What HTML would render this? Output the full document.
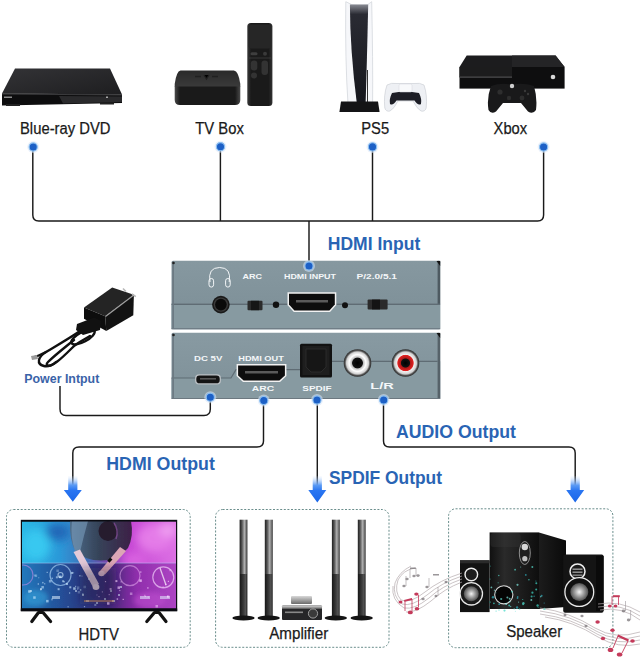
<!DOCTYPE html>
<html><head><meta charset="utf-8">
<style>
html,body{margin:0;padding:0;background:#fff;width:640px;height:658px;overflow:hidden}
svg{display:block}
text{font-family:"Liberation Sans",sans-serif}
</style></head><body>
<svg width="640" height="658" viewBox="0 0 640 658">
<defs>
  <radialGradient id="dotg" cx="50%" cy="50%" r="50%">
    <stop offset="0" stop-color="#1c6ad4"/>
    <stop offset="0.5" stop-color="#1f6fd8"/>
    <stop offset="0.68" stop-color="#8dbbee"/>
    <stop offset="1" stop-color="#dfeafa" stop-opacity="0"/>
  </radialGradient>
  <linearGradient id="panelg" x1="0" y1="0" x2="0" y2="1">
    <stop offset="0" stop-color="#8694a0"/>
    <stop offset="0.62" stop-color="#7f8d97"/>
    <stop offset="0.64" stop-color="#8898a1"/>
    <stop offset="1" stop-color="#7f8e97"/>
  </linearGradient>
  <linearGradient id="arrowg" x1="0" y1="0" x2="0" y2="1">
    <stop offset="0" stop-color="#cfe2fb" stop-opacity="0.1"/>
    <stop offset="0.35" stop-color="#5a9af4"/>
    <stop offset="0.55" stop-color="#2a76f2"/>
    <stop offset="1" stop-color="#1a66e8"/>
  </linearGradient>
  <linearGradient id="dvdtop" x1="0" y1="0" x2="1" y2="1">
    <stop offset="0" stop-color="#333336"/>
    <stop offset="1" stop-color="#1e1e20"/>
  </linearGradient>
  <linearGradient id="tvboxg" x1="0" y1="0" x2="0" y2="1">
    <stop offset="0" stop-color="#3a3a3a"/>
    <stop offset="0.35" stop-color="#1e1e1e"/>
    <stop offset="0.45" stop-color="#0c0c0c"/>
    <stop offset="1" stop-color="#151515"/>
  </linearGradient>
  <linearGradient id="tvside" x1="0" y1="0" x2="1" y2="0">
    <stop offset="0" stop-color="#4a4a4a"/>
    <stop offset="0.08" stop-color="#1a1a1a"/>
    <stop offset="0.92" stop-color="#1a1a1a"/>
    <stop offset="1" stop-color="#4a4a4a"/>
  </linearGradient>
  <linearGradient id="tvtop" x1="0" y1="0" x2="0" y2="1">
    <stop offset="0" stop-color="#2a2a2a"/>
    <stop offset="1" stop-color="#3a3a3a"/>
  </linearGradient>
  <linearGradient id="remoteg" x1="0" y1="0" x2="1" y2="0">
    <stop offset="0" stop-color="#3a3a3a"/>
    <stop offset="0.15" stop-color="#1a1a1a"/>
    <stop offset="0.85" stop-color="#1a1a1a"/>
    <stop offset="1" stop-color="#333"/>
  </linearGradient>
  <linearGradient id="ps5blk" x1="0" y1="0" x2="0" y2="1">
    <stop offset="0" stop-color="#8a8c94"/>
    <stop offset="0.1" stop-color="#2a2b33"/>
    <stop offset="1" stop-color="#15161c"/>
  </linearGradient>
</defs>

<!-- ===== DVD player ===== -->
<polygon points="15,68.5 110,68.5 122,94.5 2,93.5" fill="url(#dvdtop)"/>
<polygon points="2,93.5 122,94.5 122,103 2,105.5" fill="#0d0d0e"/>
<polygon points="2,93.5 122,94.5 122,95.5 2,94.5" fill="#3a3a3c"/>
<polygon points="59,96 122,96.5 122,102 63,103.5" fill="#2a2a2c"/>
<rect x="4" y="96.5" width="8" height="1.5" fill="#8a8a8a"/>
<rect x="106" y="96.5" width="2" height="1.5" fill="#aaa"/>
<rect x="6" y="104" width="14" height="2" fill="#222"/>
<rect x="100" y="102.5" width="14" height="2" fill="#222"/>

<!-- ===== TV box ===== -->
<path d="M174.7,86 V100 Q174.7,105.1 180,105.1 H235 Q240.3,105.1 240.3,100 V86 Z" fill="url(#tvside)"/>
<path d="M180.5,70.5 H233.9 Q238.5,71 240.3,84 V86.5 H174.7 V84 Q176.5,71 180.5,70.5 Z" fill="url(#tvtop)"/>
<path d="M195,76.5 h6 M204,75 l2.5,4 l2.5,-4 M212,76.5 h6" stroke="#202020" stroke-width="1.3"/>
<rect x="247.3" y="22.9" width="25.1" height="83.2" rx="3.5" fill="url(#remoteg)"/>
<rect x="248.5" y="24.5" width="22.7" height="24" rx="2.5" fill="#262626"/>
<rect x="250.5" y="52.3" width="7" height="3" rx="1.5" fill="#3e3e3e"/>
<circle cx="265" cy="53.8" r="2" fill="#3a3a3a"/>
<rect x="250.8" y="60.5" width="6.5" height="10" rx="3" fill="#333"/>
<rect x="261.5" y="60.5" width="6.5" height="14.5" rx="3" fill="#333"/>
<circle cx="254" cy="75.5" r="3" fill="#333"/>
<path d="M249,58 H271" stroke="#4a4a4a" stroke-width="0.6"/>
<!-- ===== PS5 ===== -->
<path d="M345.8,1.7 Q352,6 358,5 L363,5 Q368,6 371.7,1.7 Q373,60 372.6,104 L348,104 Q345,60 345.8,1.7 Z" fill="#f6f7fa" stroke="#cfd2d9" stroke-width="0.7"/>
<path d="M349.9,4.4 L368.2,4.4 Q367,60 365.6,104 L356.9,104 Q350,50 349.9,4.4 Z" fill="url(#ps5blk)"/>
<rect x="367" y="70" width="1" height="32" fill="#333"/>
<path d="M341,101.4 L378,101.4 L379.6,111.9 L339.4,111.9 Z" fill="#141416"/>
<!-- controller -->
<path d="M387,85 Q391,82.5 397,83.5 L414,83.5 Q420,82.5 424,85 Q427.5,95 426.2,108 Q425,112 421,111 Q417,109 413,101 L398,101 Q394,109 390,111 Q386,112 384.8,108 Q383.5,95 387,85 Z" fill="#eef0f4" stroke="#c6c9d0" stroke-width="0.6"/>
<path d="M392,93 Q405,90.5 419,93 Q422,99 421,104 Q418,106 414.5,100.5 L396.5,100.5 Q393,106 390,104 Q389,99 392,93 Z" fill="#1d1e26"/>
<rect x="399" y="84" width="13" height="8" rx="1.5" fill="#f8f9fb" stroke="#d4d7dd" stroke-width="0.5"/>
<!-- ===== Xbox ===== -->
<polygon points="466.7,55.4 555.6,55.4 564.6,67 459.5,67" fill="#1c1c1e"/>
<polygon points="512,55.4 555.6,55.4 564.6,67 512,67" fill="#242426"/>
<rect x="459.5" y="67" width="105.1" height="21.6" fill="#0e0e0f"/>
<rect x="459.5" y="67" width="52.5" height="10" fill="#1c1c1d"/>
<rect x="459.5" y="76.5" width="52.5" height="1.3" fill="#4a4a4c"/>
<circle cx="553" cy="77" r="2.3" fill="#d8d8d8"/>
<path d="M491,86 Q500,82.5 512,84.5 Q524,82.5 534,86 Q537.5,98 536,110 Q533,114.5 528,111.5 L521,103 L503,103 L496,111.5 Q491,114.5 488.5,110 Q486.5,98 491,86 Z" fill="#19191a"/>
<circle cx="512" cy="86" r="2.2" fill="#cfcfcf"/>
<circle cx="500" cy="92" r="2.6" fill="#2e2e2e"/>
<circle cx="509" cy="98" r="2.2" fill="#2e2e2e"/>
<circle cx="522" cy="98" r="2.4" fill="#2e2e2e"/>
<circle cx="525" cy="91" r="1.2" fill="#3a3a3a"/><circle cx="528" cy="94" r="1.2" fill="#3a3a3a"/>

<!-- ===== labels top ===== -->
<g font-size="16" fill="#1a1a1a" stroke="#1a1a1a" stroke-width="0.25">
<text x="20" y="133.8" textLength="90.5" lengthAdjust="spacingAndGlyphs">Blue-ray DVD</text>
<text x="195.3" y="133.8" textLength="48.5" lengthAdjust="spacingAndGlyphs">TV Box</text>
<text x="361.3" y="133.8" textLength="27.8" lengthAdjust="spacingAndGlyphs">PS5</text>
<text x="493.6" y="133.8" textLength="33.5" lengthAdjust="spacingAndGlyphs">Xbox</text>
</g>

<!-- ===== lines ===== -->
<g fill="none" stroke="#1a1a1a" stroke-width="1.45">
<path d="M32.8,147 V215 Q32.8,221 38.8,221 H537.6 Q543.6,221 543.6,215 V147"/>
<path d="M220.4,147 V221"/>
<path d="M372.5,147 V221"/>
<path d="M309,221 V266"/>
<path d="M60,386 V409 Q60,415.5 66,415.5 H204 Q210.3,415.5 210.3,409 V397"/>
<path d="M263.5,400 V441 Q263.5,447 257,447 H79 Q72.8,447 72.8,453 V488"/>
<path d="M317.3,400 V488"/>
<path d="M383.5,400 V441 Q383.5,447 389.5,447 H569 Q575.2,447 575.2,453 V488"/>
</g>
<!-- ===== device panels ===== -->
<defs>
  <linearGradient id="pTop" x1="0" y1="0" x2="0" y2="1">
    <stop offset="0" stop-color="#8698a0"/>
    <stop offset="1" stop-color="#7c8e96"/>
  </linearGradient>
  <linearGradient id="pBot" x1="0" y1="0" x2="0" y2="1">
    <stop offset="0" stop-color="#889aa2"/>
    <stop offset="1" stop-color="#7e9098"/>
  </linearGradient>
  <radialGradient id="rcaW" cx="50%" cy="50%" r="50%">
    <stop offset="0" stop-color="#000"/>
    <stop offset="0.36" stop-color="#111"/>
    <stop offset="0.42" stop-color="#bdbdbd"/>
    <stop offset="0.6" stop-color="#ffffff"/>
    <stop offset="0.8" stop-color="#d0d0d0"/>
    <stop offset="0.9" stop-color="#555"/>
    <stop offset="1" stop-color="#2a2a2a"/>
  </radialGradient>
  <radialGradient id="rcaR" cx="50%" cy="50%" r="50%">
    <stop offset="0" stop-color="#000"/>
    <stop offset="0.3" stop-color="#111"/>
    <stop offset="0.36" stop-color="#b01818"/>
    <stop offset="0.56" stop-color="#e02020"/>
    <stop offset="0.62" stop-color="#f0f0f0"/>
    <stop offset="0.8" stop-color="#d0d0d0"/>
    <stop offset="0.9" stop-color="#555"/>
    <stop offset="1" stop-color="#2a2a2a"/>
  </radialGradient>
</defs>
<!-- top panel -->
<rect x="171.5" y="260.8" width="268.7" height="68.4" rx="1.5" fill="url(#pTop)"/>
<rect x="171.5" y="304.5" width="268.7" height="24.7" fill="#879aa1"/>
<rect x="171.5" y="303.6" width="268.7" height="1.4" fill="#5f6c74"/>
<rect x="437.6" y="260.8" width="2.6" height="43" fill="#4e5a61"/>
<rect x="172.3" y="261.5" width="1.6" height="67" fill="#6a7780"/>
<rect x="171.5" y="328.2" width="268.7" height="1" fill="#6c7880"/>
<path d="M436.5,261 L440.2,261 L440.2,266 Z" fill="#111"/>
<circle cx="173.5" cy="263" r="1.3" fill="#222"/>
<!-- headphones -->
<g fill="none" stroke="#f2f5f7" stroke-width="1">
<path d="M210,282 Q207.5,267.5 219.6,267.5 Q231.7,267.5 229.2,282"/>
<rect x="209" y="278.5" width="4.6" height="8.6" rx="2.3"/>
<rect x="225.6" y="278.5" width="4.6" height="8.6" rx="2.3"/>
</g>
<!-- jack -->
<circle cx="220.9" cy="304.6" r="8.8" fill="#1a1a1a"/>
<circle cx="220.9" cy="304.6" r="7.2" fill="#3a3a3a"/>
<circle cx="220.9" cy="304.6" r="5.8" fill="#0a0a0a"/>
<!-- switch ARC -->
<rect x="247.5" y="300.8" width="15" height="9.4" rx="1" fill="#2b2b2b"/>
<rect x="251" y="300.8" width="8" height="9.4" fill="#161616"/>
<circle cx="276" cy="304.8" r="3.2" fill="#111"/>
<!-- HDMI input port -->
<path d="M287.5,292.2 H336.3 V305 L330,312 H293.8 L287.5,305 Z" fill="#f2f2f2"/>
<path d="M289,293.7 H334.8 V304.6 L329.4,310.6 H294.4 L289,304.6 Z" fill="#0d0d0d"/>
<rect x="296" y="300" width="32" height="2.5" fill="#5a5a5a"/>
<circle cx="345" cy="305.3" r="3" fill="#111"/>
<!-- switch P/2.0 -->
<rect x="367.6" y="299.6" width="20" height="9.8" rx="1" fill="#2b2b2b"/>
<rect x="372" y="299.6" width="8" height="9.8" fill="#141414"/>
<!-- panel labels -->
<g font-weight="bold" font-size="7.4" fill="#f4f7f9" lengthAdjust="spacingAndGlyphs">
<text x="242.5" y="279.2" textLength="19.5" lengthAdjust="spacingAndGlyphs">ARC</text>
<text x="284" y="279.2" textLength="52" lengthAdjust="spacingAndGlyphs">HDMI INPUT</text>
<text x="356.5" y="279.2" textLength="40.5" lengthAdjust="spacingAndGlyphs">P/2.0/5.1</text>
</g>

<!-- bottom panel -->
<rect x="171.5" y="332.8" width="268.7" height="66" rx="1.5" fill="url(#pBot)"/>
<path d="M171.5,378 H231 L236,369.6 H300 V361.3 H440.2 V398.8 H171.5 Z" fill="#879aa1"/>
<path d="M171.5,378 H231 L236,369.6 H300 M332,361.3 H437.6" fill="none" stroke="#5f6c74" stroke-width="1.2"/>
<rect x="437.6" y="332.8" width="2.6" height="66" fill="#566269"/>
<rect x="172.3" y="333.5" width="1.6" height="65" fill="#6a7780"/>
<rect x="171.5" y="398" width="268.7" height="1" fill="#6c7880"/>
<path d="M436.5,333 L440.2,333 L440.2,338 Z" fill="#111"/>
<circle cx="173.5" cy="335" r="1.3" fill="#222"/>
<!-- micro usb -->
<rect x="195" y="374.2" width="26" height="10.3" rx="4" fill="#b9bec2"/>
<rect x="196.3" y="375.4" width="23.4" height="7.9" rx="3.4" fill="#141414"/>
<rect x="200" y="378" width="16" height="1.6" fill="#555"/>
<!-- HDMI out -->
<path d="M236.6,364 H286.4 V376 L280,382 H243 L236.6,376 Z" fill="#f2f2f2"/>
<path d="M238.1,365.5 H284.9 V375.4 L279.4,380.6 H243.6 L238.1,375.4 Z" fill="#0d0d0d"/>
<rect x="245" y="371" width="33" height="2.5" fill="#5a5a5a"/>
<!-- SPDIF optical -->
<rect x="300" y="343.7" width="32" height="33.8" rx="1.5" fill="#121212"/>
<rect x="302.5" y="346" width="27" height="29" fill="#1e1e1e"/>
<path d="M306,349 H326 V367 L321,372 H311 L306,367 Z" fill="#161616" stroke="#2e2e2e" stroke-width="0.8"/>
<!-- RCA -->
<circle cx="357.5" cy="363" r="13.8" fill="url(#rcaW)"/>
<circle cx="405.5" cy="363" r="13.8" fill="url(#rcaR)"/>
<g font-weight="bold" font-size="7.4" fill="#f4f7f9">
<text x="194" y="361.2" textLength="28.3" lengthAdjust="spacingAndGlyphs">DC 5V</text>
<text x="238.3" y="361.2" textLength="45.5" lengthAdjust="spacingAndGlyphs">HDMI OUT</text>
<text x="251.8" y="391.3" textLength="22.3" lengthAdjust="spacingAndGlyphs">ARC</text>
<text x="302.3" y="390.7" textLength="29.3" lengthAdjust="spacingAndGlyphs">SPDIF</text>
</g>
<text x="370.3" y="389.2" font-weight="bold" font-size="9.5" fill="#f4f7f9" textLength="23.5" lengthAdjust="spacingAndGlyphs">L/R</text>
<!-- ===== blue labels ===== -->
<g font-weight="bold" font-size="17.5" fill="#2964b4">
<text x="327.8" y="249.5" textLength="92.5" lengthAdjust="spacingAndGlyphs">HDMI Input</text>
<text x="106.3" y="470" textLength="108.5" lengthAdjust="spacingAndGlyphs">HDMI Output</text>
<text x="396" y="438.2" textLength="120" lengthAdjust="spacingAndGlyphs">AUDIO Output</text>
<text x="329" y="483.7" textLength="113" lengthAdjust="spacingAndGlyphs">SPDIF Output</text>
</g>
<text x="24.3" y="382.6" font-weight="bold" font-size="12.4" fill="#3a63a8" textLength="75" lengthAdjust="spacingAndGlyphs">Power Intput</text>

<!-- ===== charger ===== -->
<g>
<g fill="none" stroke="#101010" stroke-width="2.4" stroke-linecap="round">
<ellipse cx="83" cy="337" rx="13" ry="4.8" transform="rotate(-28 83 337)"/>
<path d="M80,331 C70,338 56,346 46,352 C38,357 36,364 44,366 C52,368 62,358 72,348 C78,342 84,340 90,336"/>
<path d="M74,340 C64,348 54,356 48,362 C44,366 50,368 56,362"/>
<path d="M46,352 C42,354 38,356 35,357"/>
</g>
<path d="M31,356 L37,355 L38,359 L32,360 Z" fill="#9a9a9a"/>
<polygon points="84,307.5 112.2,287.6 133.9,294.7 105.2,316.3" fill="#242424"/>
<polygon points="105.2,316.3 133.9,294.7 133.3,315.2 106.3,331" fill="#121212"/>
<polygon points="84,307.5 105.2,316.3 106.3,331 84,318.7" fill="#0d0d0d"/>
<path d="M105.5,316.5 L133.9,295" stroke="#a0a0a0" stroke-width="1.1"/>
<polygon points="77,324 94,317.5 101,321 100,330 83,335 76,330" fill="#111"/>
<path d="M123,288.5 L126,291.5 M132,294 L135.8,296.6" stroke="#b8b8b8" stroke-width="1.6"/>
</g>

<!-- ===== dots ===== -->
<g>
<circle cx="33.2" cy="147" r="6" fill="#d8e6f7" fill-opacity="0.55"/><circle cx="33.2" cy="147" r="4.1" fill="#1d60c6" stroke="#8cc0f2" stroke-width="1.1"/>
<circle cx="220.5" cy="146.7" r="6" fill="#d8e6f7" fill-opacity="0.55"/><circle cx="220.5" cy="146.7" r="4.1" fill="#1d60c6" stroke="#8cc0f2" stroke-width="1.1"/>
<circle cx="372.5" cy="146.9" r="6" fill="#d8e6f7" fill-opacity="0.55"/><circle cx="372.5" cy="146.9" r="4.1" fill="#1d60c6" stroke="#8cc0f2" stroke-width="1.1"/>
<circle cx="543.6" cy="147" r="6" fill="#d8e6f7" fill-opacity="0.55"/><circle cx="543.6" cy="147" r="4.1" fill="#1d60c6" stroke="#8cc0f2" stroke-width="1.1"/>
<circle cx="309" cy="266" r="6" fill="#d8e6f7" fill-opacity="0.55"/><circle cx="309" cy="266" r="4.1" fill="#1d60c6" stroke="#8cc0f2" stroke-width="1.1"/>
<circle cx="210.3" cy="397.2" r="6" fill="#d8e6f7" fill-opacity="0.55"/><circle cx="210.3" cy="397.2" r="4.1" fill="#1d60c6" stroke="#8cc0f2" stroke-width="1.1"/>
<circle cx="263.8" cy="400.5" r="6" fill="#d8e6f7" fill-opacity="0.55"/><circle cx="263.8" cy="400.5" r="4.1" fill="#1d60c6" stroke="#8cc0f2" stroke-width="1.1"/>
<circle cx="317" cy="400" r="6" fill="#d8e6f7" fill-opacity="0.55"/><circle cx="317" cy="400" r="4.1" fill="#1d60c6" stroke="#8cc0f2" stroke-width="1.1"/>
<circle cx="383.7" cy="400" r="6" fill="#d8e6f7" fill-opacity="0.55"/><circle cx="383.7" cy="400" r="4.1" fill="#1d60c6" stroke="#8cc0f2" stroke-width="1.1"/>
</g>

<!-- ===== arrows ===== -->
<g fill="url(#arrowg)">
<path d="M68.2,476 H77.39999999999999 V490 H81.8 L72.8,501.8 L63.8,490 H68.2 Z"/>
<path d="M312.7,476 H321.90000000000003 V490 H326.3 L317.3,502.5 L308.3,490 H312.7 Z"/>
<path d="M570.6,476 H579.8000000000001 V490 H584.2 L575.2,502.5 L566.2,490 H570.6 Z"/>
</g>

<!-- ===== dashed boxes ===== -->
<g fill="none" stroke="#6a8e8c" stroke-width="1" stroke-dasharray="2 1.6">
<rect x="6.5" y="509.5" width="183.7" height="137.8" rx="7"/>
<rect x="215.6" y="509.5" width="173.4" height="137.8" rx="7"/>
<rect x="448.6" y="508.8" width="164.3" height="138.9" rx="7"/>
</g>

<!-- ===== bottom labels ===== -->
<g font-size="16" fill="#1a1a1a" stroke="#1a1a1a" stroke-width="0.25">
<text x="78.5" y="639.5" textLength="40.5" lengthAdjust="spacingAndGlyphs">HDTV</text>
<text x="269.2" y="639.3" textLength="59" lengthAdjust="spacingAndGlyphs">Amplifier</text>
<text x="506.2" y="636.6" textLength="56" lengthAdjust="spacingAndGlyphs">Speaker</text>
</g>
<defs>
  <linearGradient id="scrH" x1="0" y1="0" x2="1" y2="0">
    <stop offset="0" stop-color="#2ab8e6"/>
    <stop offset="0.25" stop-color="#2c98d8"/>
    <stop offset="0.42" stop-color="#3f6fb8"/>
    <stop offset="0.55" stop-color="#7a48b0"/>
    <stop offset="0.7" stop-color="#c648d4"/>
    <stop offset="1" stop-color="#dc70e4"/>
  </linearGradient>
  <linearGradient id="ctrlg" x1="0" y1="0" x2="1" y2="0">
    <stop offset="0" stop-color="#2272b8"/>
    <stop offset="0.3" stop-color="#24408a"/>
    <stop offset="0.55" stop-color="#36246e"/>
    <stop offset="0.75" stop-color="#8a2aa8"/>
    <stop offset="1" stop-color="#a840c0"/>
  </linearGradient>
  <linearGradient id="shirtg" x1="0" y1="0" x2="1" y2="0">
    <stop offset="0" stop-color="#4e6e8c"/>
    <stop offset="0.45" stop-color="#36445a"/>
    <stop offset="1" stop-color="#3c2046"/>
  </linearGradient>
  <filter id="soft" x="0" y="0" width="100%" height="100%"><feGaussianBlur stdDeviation="0.6"/></filter>
  <filter id="blur2" x="-30%" y="-30%" width="160%" height="160%"><feGaussianBlur stdDeviation="2"/></filter>
  <filter id="blur4" x="-50%" y="-50%" width="200%" height="200%"><feGaussianBlur stdDeviation="4"/></filter>
  <clipPath id="scrclip"><rect x="22" y="521.5" width="154" height="87"/></clipPath>
  <linearGradient id="towerU" x1="0" y1="0" x2="1" y2="0">
    <stop offset="0" stop-color="#1e1e1e"/>
    <stop offset="0.3" stop-color="#555"/>
    <stop offset="0.62" stop-color="#b0b0b0"/>
    <stop offset="0.85" stop-color="#707070"/>
    <stop offset="1" stop-color="#1a1a1a"/>
  </linearGradient>
  <linearGradient id="towerL" x1="0" y1="0" x2="1" y2="0">
    <stop offset="0" stop-color="#151515"/>
    <stop offset="0.5" stop-color="#3a3a3a"/>
    <stop offset="0.8" stop-color="#555"/>
    <stop offset="1" stop-color="#111"/>
  </linearGradient>
  <linearGradient id="silver" x1="0" y1="0" x2="0" y2="1">
    <stop offset="0" stop-color="#d8d8d8"/>
    <stop offset="1" stop-color="#6a6a6a"/>
  </linearGradient>
  <linearGradient id="spkSide" x1="0" y1="0" x2="1" y2="0">
    <stop offset="0" stop-color="#1c1c1c"/>
    <stop offset="1" stop-color="#0a0a0a"/>
  </linearGradient>
  <linearGradient id="subFront" x1="0" y1="0" x2="1" y2="0">
    <stop offset="0" stop-color="#101010"/>
    <stop offset="0.3" stop-color="#2a2a2a"/>
    <stop offset="0.7" stop-color="#1a1a1a"/>
    <stop offset="1" stop-color="#0e0e0e"/>
  </linearGradient>
  <radialGradient id="cone" cx="50%" cy="50%" r="50%">
    <stop offset="0" stop-color="#f4f4f4"/>
    <stop offset="0.45" stop-color="#a8a8a8"/>
    <stop offset="1" stop-color="#505050"/>
  </radialGradient>
</defs>
<!-- ===== TV ===== -->
<rect x="20.8" y="519.8" width="156.4" height="91.4" fill="#0a0b12"/>
<g clip-path="url(#scrclip)"><g filter="url(#soft)">
<rect x="22" y="521.5" width="154" height="87" fill="url(#scrH)"/>
<g filter="url(#blur4)">
<ellipse cx="36" cy="545" rx="14" ry="16" fill="#38c8f0"/>
<ellipse cx="58" cy="532" rx="12" ry="9" fill="#2068b8"/>
<ellipse cx="155" cy="538" rx="18" ry="14" fill="#e47ae8"/>
<ellipse cx="168" cy="530" rx="9" ry="7" fill="#ee9cf0"/>
<ellipse cx="135" cy="560" rx="12" ry="8" fill="#d860e0"/>
</g>
<!-- controller -->
<rect x="22" y="563" width="154" height="46" fill="url(#ctrlg)" fill-opacity="0.9"/>
<rect x="22" y="562.5" width="154" height="1.2" fill="#b8d8ff" fill-opacity="0.4"/>
<g filter="url(#blur2)">
<ellipse cx="36" cy="598" rx="12" ry="8" fill="#30a0d8" fill-opacity="0.6"/>
<ellipse cx="150" cy="600" rx="16" ry="8" fill="#c050d0" fill-opacity="0.55"/>
</g>
<!-- shirt -->
<path d="M70,521 L131,521 Q134,536 128,548 L118,558 Q100,563 86,558 L76,552 Q69,540 70,521 Z" fill="url(#shirtg)"/>
<path d="M72,521 L88,521 Q84,535 80,552 L75,551 Q70,538 72,521 Z" fill="#7a9cbc" fill-opacity="0.6"/>
<ellipse cx="108" cy="531" rx="9.5" ry="10" fill="#261c2e"/>
<path d="M114,523 Q119,530 116,539" stroke="#8a50a0" stroke-width="1.5" fill="none" stroke-opacity="0.7"/>
<!-- arms -->
<path d="M73.5,552 L80,549.5 L99,584 L93.5,588 Z" fill="#e4cad8"/>
<ellipse cx="96" cy="587" rx="3.4" ry="3" fill="#f2dce6"/>
<path d="M120,547 L126,551 L105,574.5 L100,571 Z" fill="#dca6b6"/>
<rect x="107.5" y="558.5" width="4.5" height="3" transform="rotate(-48 110 560)" fill="#111"/>
<ellipse cx="101.5" cy="573.5" rx="3.2" ry="2.8" fill="#e8c0d0"/>
<!-- turntables -->
<g fill="none" stroke-width="1.2">
<circle cx="60.5" cy="575" r="10.5" stroke="#b8e0ff" stroke-opacity="0.6"/>
<circle cx="60.5" cy="575" r="2.5" stroke="#d8f0ff" stroke-opacity="0.6"/>
<circle cx="23" cy="575" r="10" stroke="#e090f0" stroke-opacity="0.5"/>
<circle cx="130" cy="575.7" r="10" stroke="#f0b8f8" stroke-opacity="0.5"/>
<circle cx="163.3" cy="577.3" r="10.5" stroke="#f8d8ff" stroke-opacity="0.65"/>
</g>
<path d="M160,568 L166,585" stroke="#fff" stroke-width="1.3" stroke-opacity="0.7"/>
<g fill="#e0f0ff" fill-opacity="0.55">
<rect x="52" y="596" width="8" height="3"/>
<rect x="140" y="596" width="10" height="3"/>
<rect x="160" y="596" width="10" height="3"/>
<rect x="75" y="590" width="2" height="2"/><rect x="82" y="594" width="2" height="2"/><rect x="110" y="590" width="2" height="2"/>
<rect x="118" y="594" width="2" height="2"/><rect x="104" y="598" width="2" height="2"/><rect x="30" y="590" width="2" height="2"/>
<rect x="86" y="600" width="3" height="2"/><rect x="96" y="602" width="2" height="2"/><rect x="112" y="600" width="3" height="2"/>
<rect x="40" y="588" width="2" height="2"/><rect x="120" y="586" width="2" height="2"/><rect x="88" y="578" width="2" height="2"/>
</g>
<g><rect x="72.9" y="572.2" width="1.2" height="1.2" fill="#c8e8ff" fill-opacity="0.34"/><rect x="104.9" y="581.0" width="1.2" height="1.2" fill="#f8d0ff" fill-opacity="0.75"/><rect x="56.4" y="569.5" width="2.5" height="2.5" fill="#c8e8ff" fill-opacity="0.33"/><rect x="37.7" y="583.4" width="1.2" height="1.2" fill="#c8e8ff" fill-opacity="0.77"/><rect x="119.2" y="589.9" width="1.2" height="1.2" fill="#f8d0ff" fill-opacity="0.59"/><rect x="83.9" y="606.0" width="1.2" height="1.2" fill="#c8e8ff" fill-opacity="0.58"/><rect x="44.1" y="583.2" width="1.2" height="1.2" fill="#c8e8ff" fill-opacity="0.59"/><rect x="108.6" y="594.0" width="1.2" height="1.2" fill="#f8d0ff" fill-opacity="0.59"/><rect x="120.5" y="581.3" width="1.2" height="1.2" fill="#f8d0ff" fill-opacity="0.58"/><rect x="117.5" y="586.4" width="2.5" height="2.5" fill="#f8d0ff" fill-opacity="0.69"/><rect x="94.3" y="603.9" width="2" height="2" fill="#c8e8ff" fill-opacity="0.45"/><rect x="144.0" y="594.7" width="1.5" height="1.5" fill="#f8d0ff" fill-opacity="0.34"/><rect x="69.3" y="586.3" width="2" height="2" fill="#c8e8ff" fill-opacity="0.66"/><rect x="67.5" y="606.2" width="1.2" height="1.2" fill="#c8e8ff" fill-opacity="0.56"/><rect x="48.9" y="580.0" width="2.5" height="2.5" fill="#c8e8ff" fill-opacity="0.51"/><rect x="169.3" y="569.2" width="2" height="2" fill="#f8d0ff" fill-opacity="0.47"/><rect x="76.9" y="586.4" width="2.5" height="2.5" fill="#c8e8ff" fill-opacity="0.33"/><rect x="38.1" y="577.1" width="1.2" height="1.2" fill="#c8e8ff" fill-opacity="0.33"/><rect x="129.9" y="592.5" width="2.5" height="2.5" fill="#f8d0ff" fill-opacity="0.44"/><rect x="82.3" y="593.4" width="1.2" height="1.2" fill="#c8e8ff" fill-opacity="0.77"/><rect x="77.7" y="591.0" width="2.5" height="2.5" fill="#c8e8ff" fill-opacity="0.33"/><rect x="140.0" y="571.3" width="1.5" height="1.5" fill="#f8d0ff" fill-opacity="0.50"/><rect x="162.4" y="586.4" width="1.5" height="1.5" fill="#f8d0ff" fill-opacity="0.52"/><rect x="107.0" y="602.2" width="2.5" height="2.5" fill="#f8d0ff" fill-opacity="0.73"/><rect x="66.0" y="583.0" width="2" height="2" fill="#c8e8ff" fill-opacity="0.64"/><rect x="81.4" y="575.5" width="1.2" height="1.2" fill="#c8e8ff" fill-opacity="0.39"/><rect x="59.0" y="575.6" width="2.5" height="2.5" fill="#c8e8ff" fill-opacity="0.72"/><rect x="51.5" y="577.6" width="1.5" height="1.5" fill="#c8e8ff" fill-opacity="0.51"/><rect x="79.8" y="589.2" width="1.5" height="1.5" fill="#c8e8ff" fill-opacity="0.65"/><rect x="101.8" y="591.3" width="1.2" height="1.2" fill="#f8d0ff" fill-opacity="0.53"/><rect x="155.5" y="605.0" width="2.5" height="2.5" fill="#f8d0ff" fill-opacity="0.50"/><rect x="83.5" y="585.7" width="2.5" height="2.5" fill="#c8e8ff" fill-opacity="0.33"/><rect x="34.2" y="574.6" width="1.5" height="1.5" fill="#c8e8ff" fill-opacity="0.35"/><rect x="109.6" y="588.0" width="2" height="2" fill="#f8d0ff" fill-opacity="0.61"/><rect x="34.6" y="574.5" width="2.5" height="2.5" fill="#c8e8ff" fill-opacity="0.37"/><rect x="62.1" y="580.2" width="2" height="2" fill="#c8e8ff" fill-opacity="0.54"/><rect x="41.4" y="586.0" width="2.5" height="2.5" fill="#c8e8ff" fill-opacity="0.54"/><rect x="71.1" y="571.9" width="2" height="2" fill="#c8e8ff" fill-opacity="0.67"/><rect x="96.3" y="594.4" width="1.2" height="1.2" fill="#f8d0ff" fill-opacity="0.40"/><rect x="167.8" y="580.8" width="1.2" height="1.2" fill="#f8d0ff" fill-opacity="0.68"/><rect x="69.0" y="592.4" width="1.2" height="1.2" fill="#c8e8ff" fill-opacity="0.65"/><rect x="63.4" y="581.0" width="1.5" height="1.5" fill="#c8e8ff" fill-opacity="0.48"/><rect x="57.6" y="588.2" width="2" height="2" fill="#c8e8ff" fill-opacity="0.62"/><rect x="116.6" y="598.3" width="1.5" height="1.5" fill="#f8d0ff" fill-opacity="0.70"/><rect x="147.6" y="596.3" width="1.5" height="1.5" fill="#f8d0ff" fill-opacity="0.40"/><rect x="98.4" y="596.0" width="1.2" height="1.2" fill="#f8d0ff" fill-opacity="0.70"/><rect x="115.4" y="580.1" width="2" height="2" fill="#f8d0ff" fill-opacity="0.78"/><rect x="79.1" y="575.0" width="1.5" height="1.5" fill="#c8e8ff" fill-opacity="0.54"/><rect x="75.0" y="585.8" width="1.2" height="1.2" fill="#c8e8ff" fill-opacity="0.54"/><rect x="122.6" y="598.8" width="1.2" height="1.2" fill="#f8d0ff" fill-opacity="0.72"/><rect x="42.1" y="581.9" width="1.5" height="1.5" fill="#c8e8ff" fill-opacity="0.54"/><rect x="51.0" y="598.4" width="2" height="2" fill="#c8e8ff" fill-opacity="0.34"/><rect x="166.9" y="595.6" width="2.5" height="2.5" fill="#f8d0ff" fill-opacity="0.50"/><rect x="167.0" y="595.7" width="1.5" height="1.5" fill="#f8d0ff" fill-opacity="0.80"/><rect x="28.2" y="590.2" width="2.5" height="2.5" fill="#c8e8ff" fill-opacity="0.70"/><rect x="46.1" y="599.9" width="2.5" height="2.5" fill="#c8e8ff" fill-opacity="0.63"/><rect x="76.9" y="588.5" width="1.5" height="1.5" fill="#c8e8ff" fill-opacity="0.31"/><rect x="144.7" y="595.8" width="1.2" height="1.2" fill="#f8d0ff" fill-opacity="0.56"/><rect x="165.0" y="583.8" width="1.5" height="1.5" fill="#f8d0ff" fill-opacity="0.71"/><rect x="55.9" y="576.3" width="2" height="2" fill="#c8e8ff" fill-opacity="0.55"/><rect x="139.3" y="579.4" width="2.5" height="2.5" fill="#f8d0ff" fill-opacity="0.72"/><rect x="33.2" y="596.3" width="2.5" height="2.5" fill="#c8e8ff" fill-opacity="0.63"/><rect x="147.1" y="587.2" width="1.5" height="1.5" fill="#f8d0ff" fill-opacity="0.57"/><rect x="90.5" y="573.5" width="1.2" height="1.2" fill="#c8e8ff" fill-opacity="0.69"/><rect x="46.6" y="571.8" width="1.2" height="1.2" fill="#c8e8ff" fill-opacity="0.58"/><rect x="73.2" y="587.3" width="2.5" height="2.5" fill="#c8e8ff" fill-opacity="0.69"/><rect x="40.0" y="589.0" width="1.5" height="1.5" fill="#c8e8ff" fill-opacity="0.40"/></g>
<rect x="84" y="600" width="30" height="2" fill="#f0a060" fill-opacity="0.5"/>
<g fill="#20183a" fill-opacity="0.35" filter="url(#blur4)">
<rect x="80" y="568" width="36" height="36"/>
</g>
</g></g>
<rect x="20.8" y="608.5" width="156.4" height="2.7" fill="#0a0b12"/>
<path d="M31.8,621.5 L38.5,612.5 L43,612.5 L50.6,621.5" fill="none" stroke="#121212" stroke-width="3.2" stroke-linejoin="round" stroke-linecap="round"/>
<path d="M146.8,621.5 L154.5,612.5 L159,612.5 L166,621.5" fill="none" stroke="#121212" stroke-width="3.2" stroke-linejoin="round" stroke-linecap="round"/>

<!-- ===== amplifier towers ===== -->
<g fill="url(#towerU)">
<rect x="239.6" y="519.7" width="7.8" height="54.3"/>
<rect x="264.8" y="519.7" width="7.9" height="54.3"/>
<rect x="331.9" y="519.7" width="7.8" height="54.3"/>
<rect x="357.8" y="519.7" width="7.8" height="54.3"/>
</g>
<g fill="url(#towerL)">
<rect x="239.6" y="574" width="7.8" height="43"/>
<rect x="264.8" y="574" width="7.9" height="43"/>
<rect x="331.9" y="574" width="7.8" height="43"/>
<rect x="357.8" y="574" width="7.8" height="43"/>
</g>
<g fill="#141414">
<ellipse cx="243.5" cy="618" rx="11.2" ry="2.4"/>
<ellipse cx="268.7" cy="618" rx="11.2" ry="2.4"/>
<ellipse cx="335.8" cy="618" rx="11.2" ry="2.4"/>
<ellipse cx="361.7" cy="618" rx="11.2" ry="2.4"/>
</g>
<rect x="282" y="605.6" width="40" height="14.4" rx="1" fill="#262628"/>
<rect x="282" y="605.6" width="40" height="3.2" fill="url(#silver)"/>
<circle cx="313" cy="613.5" r="4.6" fill="#3a3a3a" stroke="#aaa" stroke-width="0.9"/>
<rect x="285" y="611.5" width="18" height="1.6" fill="#888"/>
<rect x="291" y="596" width="21" height="8" rx="1" fill="url(#silver)"/>

<!-- ===== speaker system ===== -->
<polygon points="539,532.4 566,540.6 566,607 539,609" fill="url(#spkSide)"/>
<rect x="489.6" y="532.4" width="49.4" height="76.6" fill="url(#subFront)"/>
<rect x="490.5" y="533" width="30" height="14" rx="3" fill="#3a3a3a" fill-opacity="0.35"/>
<ellipse cx="524.8" cy="553" rx="5.5" ry="11.5" fill="#1e1e1e" stroke="#9a9a9a" stroke-width="0.9"/>
<circle cx="524.8" cy="547" r="3.2" fill="#d8d8d8"/>
<circle cx="524.8" cy="558.7" r="2.6" fill="#c0c0c0"/>
<circle cx="503.8" cy="594.8" r="9.1" fill="#050505" stroke="#d8d8d8" stroke-width="1.1"/>
<!-- cyan sparkles -->
<g><circle cx="493.9" cy="603.3" r="0.9" fill="#40d8c8" fill-opacity="0.7"/><circle cx="518.6" cy="602.1" r="0.6" fill="#80e8e0" fill-opacity="0.7"/><circle cx="514.2" cy="608.9" r="0.7" fill="#58e0d0" fill-opacity="0.7"/><circle cx="536.2" cy="589.6" r="1.0" fill="#40d8c8" fill-opacity="0.7"/><circle cx="488.7" cy="607.2" r="1.1" fill="#30b0c0" fill-opacity="0.7"/><circle cx="509.7" cy="598.8" r="1.0" fill="#80e8e0" fill-opacity="0.7"/><circle cx="504.5" cy="610.6" r="1.1" fill="#40d8c8" fill-opacity="0.7"/><circle cx="480.4" cy="604.8" r="1.0" fill="#30b0c0" fill-opacity="0.7"/><circle cx="506.2" cy="604.2" r="0.9" fill="#80e8e0" fill-opacity="0.7"/><circle cx="517.1" cy="607.5" r="1.2" fill="#30b0c0" fill-opacity="0.7"/><circle cx="544.4" cy="608.9" r="1.2" fill="#40d8c8" fill-opacity="0.7"/><circle cx="525.8" cy="574.9" r="0.9" fill="#30b0c0" fill-opacity="0.7"/><circle cx="486.3" cy="587.7" r="0.8" fill="#30b0c0" fill-opacity="0.7"/><circle cx="531.6" cy="596.5" r="1.0" fill="#40d8c8" fill-opacity="0.7"/><circle cx="481.0" cy="605.8" r="0.7" fill="#30b0c0" fill-opacity="0.7"/><circle cx="511.9" cy="591.7" r="0.9" fill="#40d8c8" fill-opacity="0.7"/><circle cx="541.6" cy="595.8" r="1.0" fill="#30b0c0" fill-opacity="0.7"/><circle cx="499.0" cy="610.1" r="0.8" fill="#80e8e0" fill-opacity="0.7"/><circle cx="536.3" cy="583.2" r="1.0" fill="#40d8c8" fill-opacity="0.7"/><circle cx="519.5" cy="609.2" r="0.8" fill="#58e0d0" fill-opacity="0.7"/><circle cx="540.7" cy="596.7" r="0.7" fill="#80e8e0" fill-opacity="0.7"/><circle cx="544.2" cy="603.0" r="0.6" fill="#30b0c0" fill-opacity="0.7"/><circle cx="509.2" cy="605.6" r="1.0" fill="#40d8c8" fill-opacity="0.7"/><circle cx="517.5" cy="598.1" r="0.9" fill="#30b0c0" fill-opacity="0.7"/><circle cx="517.7" cy="596.9" r="0.8" fill="#30b0c0" fill-opacity="0.7"/><circle cx="498.1" cy="582.7" r="0.5" fill="#58e0d0" fill-opacity="0.7"/><circle cx="498.8" cy="575.5" r="0.7" fill="#58e0d0" fill-opacity="0.7"/><circle cx="523.4" cy="603.2" r="1.2" fill="#58e0d0" fill-opacity="0.7"/><circle cx="507.4" cy="597.4" r="1.0" fill="#80e8e0" fill-opacity="0.7"/><circle cx="496.1" cy="611.1" r="0.7" fill="#58e0d0" fill-opacity="0.7"/><circle cx="535.9" cy="581.0" r="0.6" fill="#30b0c0" fill-opacity="0.7"/><circle cx="517.5" cy="584.8" r="1.1" fill="#80e8e0" fill-opacity="0.7"/><circle cx="501.2" cy="599.0" r="1.1" fill="#58e0d0" fill-opacity="0.7"/><circle cx="491.4" cy="587.4" r="0.9" fill="#80e8e0" fill-opacity="0.7"/><circle cx="515.4" cy="611.3" r="0.5" fill="#80e8e0" fill-opacity="0.7"/><circle cx="534.1" cy="596.2" r="0.7" fill="#30b0c0" fill-opacity="0.7"/><circle cx="537.6" cy="605.5" r="1.2" fill="#40d8c8" fill-opacity="0.7"/><circle cx="532.3" cy="567.1" r="1.0" fill="#58e0d0" fill-opacity="0.7"/><circle cx="538.1" cy="607.3" r="0.5" fill="#40d8c8" fill-opacity="0.7"/><circle cx="489.5" cy="579.1" r="0.9" fill="#80e8e0" fill-opacity="0.7"/><circle cx="481.6" cy="592.8" r="1.2" fill="#80e8e0" fill-opacity="0.7"/><circle cx="532.4" cy="592.7" r="1.1" fill="#40d8c8" fill-opacity="0.7"/><circle cx="489.5" cy="602.2" r="1.1" fill="#40d8c8" fill-opacity="0.7"/><circle cx="510.7" cy="606.6" r="0.7" fill="#80e8e0" fill-opacity="0.7"/><circle cx="481.4" cy="580.2" r="1.1" fill="#58e0d0" fill-opacity="0.7"/><circle cx="481.1" cy="590.7" r="1.0" fill="#80e8e0" fill-opacity="0.7"/><circle cx="499.2" cy="604.2" r="0.9" fill="#30b0c0" fill-opacity="0.7"/><circle cx="495.8" cy="592.8" r="0.5" fill="#80e8e0" fill-opacity="0.7"/><circle cx="531.3" cy="600.1" r="1.0" fill="#80e8e0" fill-opacity="0.7"/><circle cx="520.7" cy="567.0" r="0.5" fill="#80e8e0" fill-opacity="0.7"/><circle cx="528.9" cy="579.8" r="0.8" fill="#40d8c8" fill-opacity="0.7"/><circle cx="494.4" cy="590.2" r="0.6" fill="#80e8e0" fill-opacity="0.7"/><circle cx="493.0" cy="597.2" r="1.2" fill="#30b0c0" fill-opacity="0.7"/><circle cx="486.1" cy="597.5" r="1.0" fill="#80e8e0" fill-opacity="0.7"/><circle cx="522.7" cy="599.5" r="0.6" fill="#40d8c8" fill-opacity="0.7"/><circle cx="509.7" cy="601.6" r="0.9" fill="#80e8e0" fill-opacity="0.7"/><circle cx="490.0" cy="566.1" r="0.6" fill="#40d8c8" fill-opacity="0.7"/><circle cx="523.1" cy="604.3" r="0.9" fill="#40d8c8" fill-opacity="0.7"/><circle cx="480.4" cy="601.1" r="1.0" fill="#40d8c8" fill-opacity="0.7"/><circle cx="515.1" cy="569.7" r="0.9" fill="#58e0d0" fill-opacity="0.7"/></g>
<!-- left satellite -->
<rect x="460" y="560.3" width="29.6" height="51.8" fill="#121212"/>
<rect x="460" y="560.3" width="29.6" height="3" fill="#2a2a2a"/>
<circle cx="471.3" cy="574.5" r="6.3" fill="#1c1c1c" stroke="#ececec" stroke-width="1.4"/>
<circle cx="471.3" cy="593.8" r="11.2" fill="#1a1a1a" stroke="#e8e8e8" stroke-width="1.3"/>
<circle cx="471.3" cy="593.8" r="7.5" fill="url(#cone)"/>
<!-- right satellite -->
<rect x="563.2" y="554.4" width="40.4" height="58.3" rx="2" fill="#141414"/>
<rect x="596" y="556" width="7.6" height="55" fill="#0a0a0a"/>
<circle cx="577.5" cy="571.4" r="7.5" fill="#1a1a1a" stroke="#eeeeee" stroke-width="1.5"/>
<rect x="572.5" y="568.5" width="10" height="1.4" fill="#999"/><rect x="572.5" y="571.5" width="10" height="1.4" fill="#999"/><rect x="572.5" y="574.5" width="10" height="1.4" fill="#888"/>
<circle cx="579.3" cy="592" r="14.4" fill="#101010" stroke="#e8e8e8" stroke-width="1.3"/>
<circle cx="579.3" cy="592" r="9" fill="url(#cone)"/>

<!-- ===== music notes ===== -->
<g fill="none" stroke="#b4aaae" stroke-width="0.7">
<path d="M462,573 Q440,580 425,592 Q410,604 401,600 Q394,592 398,580 Q403,570 415,568"/>
<path d="M462,576 Q441,583 427,595 Q412,607 402,604 Q392,596 395,583 Q399,572 411,566"/>
<path d="M462,579 Q442,586 429,598 Q414,610 404,608 Q391,600 393,586"/>
<path d="M462,582 Q444,589 431,601 Q416,613 406,612"/>
<path d="M540,608 Q570,612 595,628 Q615,640 640,632"/>
<path d="M540,611 Q571,615 596,631 Q616,643 640,636"/>
<path d="M540,614 Q572,618 597,634 Q617,646 640,640"/>
<path d="M545,617 Q573,621 598,637 Q618,649 640,644"/>
<path d="M598,604 Q620,600 640,612 M598,607 Q621,603 640,616 M600,610 Q622,606 640,620"/>
</g>
<g fill="#c43a5a">
<ellipse cx="410.3" cy="612.4" rx="2.5" ry="1.9"/>
<ellipse cx="417" cy="608.8" rx="2.3" ry="1.8"/>
<ellipse cx="416.4" cy="594.1" rx="2.2" ry="1.7"/>
<ellipse cx="400.5" cy="602" rx="2" ry="1.6"/>
<ellipse cx="597.6" cy="622" rx="2.2" ry="1.7"/>
<ellipse cx="612.5" cy="630.3" rx="2.2" ry="1.7"/>
<ellipse cx="603" cy="638.5" rx="2.2" ry="1.7"/>
<ellipse cx="610.5" cy="649.9" rx="2.8" ry="2.1"/>
<ellipse cx="619.6" cy="654.5" rx="2.8" ry="2.1"/>
<ellipse cx="632.5" cy="641" rx="2.3" ry="1.8"/>
<ellipse cx="609.8" cy="605.9" rx="1.9" ry="1.5"/>
<ellipse cx="615.5" cy="606" rx="1.9" ry="1.5"/>
</g>
<g stroke="#c43a5a" fill="none">
<path d="M404.2,600.9 L412.1,599" stroke-width="2"/>
<path d="M405,601 V611 M412,599.5 V611 M418.5,595 V607" stroke-width="0.8"/>
<path d="M613,596.2 L619.8,596.2" stroke-width="2"/>
<path d="M612,596 V605 M618.5,596 V605" stroke-width="0.8"/>
<path d="M617.7,635.5 L628.5,640.5" stroke-width="2.4"/>
<path d="M613,648 L618,636 M622,653 L628,641" stroke-width="0.9"/>
</g>
<g fill="#7a7478" fill-opacity="0.75">
<ellipse cx="404" cy="586" rx="1.7" ry="1.3"/><ellipse cx="407" cy="579" rx="1.7" ry="1.3"/><ellipse cx="414" cy="576" rx="1.7" ry="1.3"/>
<ellipse cx="418" cy="575.6" rx="1.7" ry="1.3"/><ellipse cx="427" cy="587" rx="1.7" ry="1.3"/><ellipse cx="423" cy="599" rx="1.7" ry="1.3"/>
<ellipse cx="436" cy="596" rx="1.5" ry="1.2"/><ellipse cx="446" cy="582" rx="1.5" ry="1.2"/>
<ellipse cx="623.5" cy="611" rx="1.8" ry="1.4"/><ellipse cx="628.6" cy="620" rx="1.8" ry="1.4"/>
<ellipse cx="582" cy="616" rx="1.6" ry="1.2"/><ellipse cx="586" cy="626" rx="1.6" ry="1.2"/><ellipse cx="565" cy="615" rx="1.5" ry="1.2"/>
<rect x="410" y="567.5" width="6" height="1.5"/><rect x="433" y="574" width="6" height="1.5"/>
</g>
<g stroke="#9a9498" stroke-width="0.6" fill="none">
<path d="M406,586 V576 M416,576 V568 M410,569 V578 M429,587 V578 M438,596 V587 M625.5,611 V601 M630.6,620 V610"/>
</g>
</svg>
</body></html>
